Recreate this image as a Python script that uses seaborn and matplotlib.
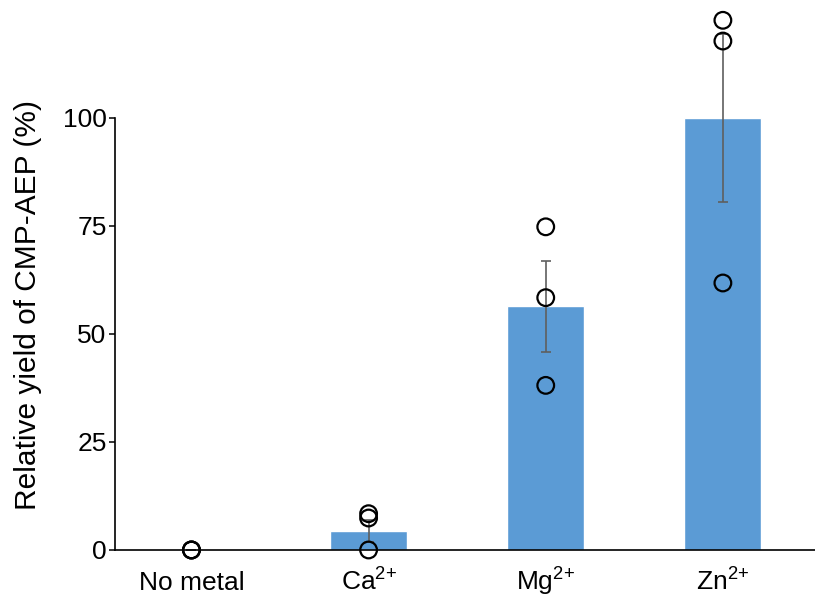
import pandas as pd
import matplotlib
matplotlib.use("Agg")
import matplotlib.pyplot as plt
import seaborn as sns

sns.set_style("white")
plt.rcParams['font.family'] = ['Liberation Sans', 'DejaVu Sans']
plt.rcParams['mathtext.fontset'] = 'custom'
plt.rcParams['mathtext.rm'] = 'Liberation Sans'
plt.rcParams['mathtext.it'] = 'Liberation Sans'
plt.rcParams['mathtext.bf'] = 'Liberation Sans'
plt.rcParams['text.color'] = 'black'
plt.rcParams['axes.labelcolor'] = 'black'
plt.rcParams['xtick.color'] = 'black'
plt.rcParams['ytick.color'] = 'black'

# Data
categories = ['No metal', 'Ca$^{2{+}}$', 'Mg$^{2{+}}$', 'Zn$^{2{+}}$']
means = [0.0, 4.4, 56.4, 100.0]
sems = [0.0, 2.6, 10.5, 19.5]
points_no_metal = [0.0, 0.0, 0.0]
points_ca = [8.4, 7.4, 0.0]
points_mg = [74.8, 58.4, 38.1]
points_zn = [122.6, 117.8, 61.8]

bar_color = '#5b9bd5'

bars = pd.DataFrame({'metal': categories, 'yield': means})
pts = pd.DataFrame({
    'metal': [categories[0]] * 3 + [categories[1]] * 3 + [categories[2]] * 3 + [categories[3]] * 3,
    'yield': points_no_metal + points_ca + points_mg + points_zn,
})

fig = plt.figure(figsize=(8.15, 5.98), dpi=100)
ax = fig.add_axes([0.141, 0.0803, 0.859, 0.9197])

sns.barplot(data=bars, x='metal', y='yield', order=categories, color=bar_color,
            width=0.435, saturation=1, errorbar=None, ax=ax, zorder=1)
ax.errorbar(range(len(categories)), means, yerr=sems, fmt='none', ecolor='#5f5f5f',
            elinewidth=1.2, capsize=3.5, capthick=1.2, zorder=2)
sns.stripplot(data=pts, x='metal', y='yield', order=categories, jitter=False,
              size=12, marker='o', facecolor='none', edgecolor='black', linewidth=1.6,
              ax=ax, zorder=3)
for c in ax.collections:
    c.set_clip_on(False)

ax.set_xlim(-0.432, 3.52)
ax.set_ylim(0, 127.3)
ax.set_yticks([0, 25, 50, 75, 100])
ax.set_xlabel('')
ax.set_ylabel('Relative yield of CMP-AEP (%)', fontsize=21.5)
ax.yaxis.set_label_coords(-0.104, 0.445)
ax.tick_params(axis='y', direction='out', length=4, width=1.1, labelsize=19, pad=2, left=True)
ax.tick_params(axis='x', length=0, labelsize=19, pad=29)
for lbl in ax.get_xticklabels():
    lbl.set_verticalalignment('baseline')

sns.despine(ax=ax)
ax.spines['left'].set_bounds(0, 100)
for s in ['left', 'bottom']:
    ax.spines[s].set_linewidth(1.2)
    ax.spines[s].set_color('black')

fig.savefig('out.png', dpi=100)
